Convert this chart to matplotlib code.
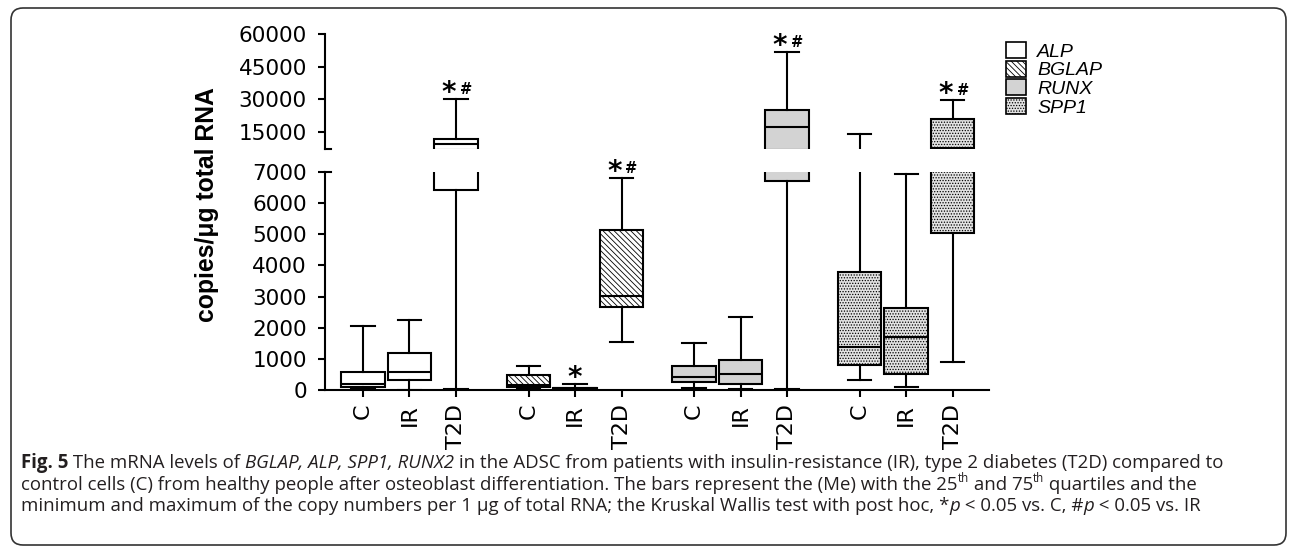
import matplotlib
matplotlib.use('Agg')
import matplotlib.pyplot as plt
from matplotlib.patches import Patch, FancyBboxPatch

plt.rcParams['hatch.linewidth'] = 0.6

genes = ['ALP', 'BGLAP', 'RUNX', 'SPP1']
groups = ['C', 'IR', 'T2D']

# Reihenfolge: ALP C, IR, T2D, BGLAP C, IR, T2D, RUNX ..., SPP1 ...
whislo = [50, 10, 30, 30, 5, 1550, 74, 22, 30, 321, 106, 890]
q1 = [106, 321, 6420, 106, 15, 2655, 257, 193, 6710, 803, 514, 5032]
med = [193, 568, 9300, 160, 50, 3030, 417, 504, 17140, 1380, 1702, 7600]
q3 = [588, 1178, 11500, 482, 80, 5140, 771, 973, 25000, 3800, 2624, 20800]
whishi = [2055, 2248, 30000, 770, 193, 6800, 1510, 2335, 51700, 13800, 6930, 29500]
sig = ['', '', '*#', '', '*', '*#', '', '', '*#', '', '', '*#']

low_ticks = [0, 1000, 2000, 3000, 4000, 5000, 6000, 7000]
high_ticks = [15000, 30000, 45000, 60000]
y_break = 7000
y_max = 60000

faces = ['white', 'white', '#d3d3d3', '#e2e2e2']
hatches = [None, '\\' * 6, None, '......']

positions = [g * 3.56 + i for g in range(len(genes)) for i in range(len(groups))]
labels = [grp for g in genes for grp in groups]
stats = [dict(med=med[k], q1=q1[k], q3=q3[k], whislo=whislo[k], whishi=whishi[k], fliers=[])
         for k in range(len(med))]

fig = plt.figure(figsize=(12.9, 5.46), dpi=100)
ax_bot = fig.add_axes([0.2519, 0.2857, 0.5147, 0.3993])
ax_top = fig.add_axes([0.2519, 0.7271, 0.5147, 0.2106], sharex=ax_bot)

lw = 1.5
for ax, is_top in ((ax_bot, False), (ax_top, True)):
    res = ax.bxp(stats, positions=positions, widths=0.94, capwidths=0.5,
                 patch_artist=True, showfliers=False,
                 boxprops=dict(linewidth=lw, edgecolor='black'),
                 whiskerprops=dict(linewidth=lw, color='black'),
                 capprops=dict(linewidth=lw, color='black'),
                 medianprops=dict(linewidth=lw, color='black'))
    for k, box in enumerate(res['boxes']):
        g = k // 3
        box.set_facecolor(faces[g])
        if hatches[g]:
            box.set_hatch(hatches[g])
    # Linien, die ganz unter dem Bruch liegen, nicht im oberen Teil zeigen
    if is_top:
        for ln in res['caps'] + res['medians'] + res['whiskers']:
            if max(ln.get_ydata()) < y_break:
                ln.set_visible(False)
    for s in ['top', 'right']:
        ax.spines[s].set_visible(False)
    ax.spines['left'].set_linewidth(lw)
    ax.tick_params(axis='y', length=5, width=lw, pad=8, labelsize=15.5)
    ax.set_xlim(-0.817, 13.46)

ax_bot.set_ylim(0, y_break)
ax_bot.set_yticks(low_ticks)
ax_bot.spines['bottom'].set_linewidth(lw)
ax_bot.set_xticks(positions)
ax_bot.set_xticklabels(labels, rotation=90, fontsize=16)
ax_bot.tick_params(axis='x', length=5, width=lw, pad=5)

ax_top.set_ylim(y_break, y_max)
ax_top.set_yticks(high_ticks)
ax_top.spines['bottom'].set_visible(False)
ax_top.tick_params(axis='x', bottom=False, labelbottom=False)

# Bruchmarken der Achse
stub = 6 / 664
ax_top.plot([0, stub], [0, 0], transform=ax_top.transAxes, color='black', lw=lw, clip_on=False)
ax_bot.plot([0, stub], [1, 1], transform=ax_bot.transAxes, color='black', lw=lw, clip_on=False)

# Signifikanzzeichen ueber den Whiskern
for k, s in enumerate(sig):
    if not s:
        continue
    ax = ax_top if whishi[k] > y_break else ax_bot
    dx = -7 if '#' in s else 0
    ax.annotate('*', xy=(positions[k], whishi[k]), xytext=(dx, -2), textcoords='offset pixels',
                ha='center', va='baseline', fontsize=20, fontweight='bold', annotation_clip=False)
    if '#' in s:
        ax.annotate('#', xy=(positions[k], whishi[k]), xytext=(10, 5), textcoords='offset pixels',
                    ha='center', va='baseline', fontsize=10.5, fontweight='bold', annotation_clip=False)

fig.text(207 / 1290, 1 - 205 / 546, 'copies/μg total RNA', rotation=90, ha='center', va='center',
         fontsize=17.8, fontweight='bold', family=['Liberation Sans', 'DejaVu Sans'])

handles = [Patch(facecolor=faces[g], edgecolor='black', hatch=hatches[g], linewidth=1.2)
           for g in range(len(genes))]
fig.legend(handles, genes, loc='upper left', bbox_to_anchor=(1006 / 1290, 1 - 42 / 546),
           frameon=False, borderpad=0, borderaxespad=0, handlelength=1.03, handleheight=0.88,
           handletextpad=0.57, labelspacing=0.0,
           prop=dict(family=['Liberation Sans', 'DejaVu Sans'], style='italic', size=14))

# Bildunterschrift: Textstuecke mit eigenem Stil nebeneinander setzen
N, I, B, S = 'n', 'i', 'b', 's'
cap_lines = [
    [('Fig. 5', B), (' The mRNA levels of ', N), ('BGLAP, ALP, SPP1, RUNX2', I),
     (' in the ADSC from patients with insulin-resistance (IR), type 2 diabetes (T2D) compared to', N)],
    [('control cells (C) from healthy people after osteoblast differentiation. The bars represent the (Me) with the 25', N),
     ('th', S), (' and 75', N), ('th', S), (' quartiles and the', N)],
    [('minimum and maximum of the copy numbers per 1 µg of total RNA; the Kruskal Wallis test with post hoc, *', N),
     ('p', I), (' < 0.05 vs. C, #', N), ('p', I), (' < 0.05 vs. IR', N)],
]
cap_size = 13.4
renderer = fig.canvas.get_renderer()


def run_style(kind):
    st = dict(family='Open Sans', color='#231f20', fontsize=cap_size)
    if kind == I:
        st['style'] = 'italic'
    elif kind == B:
        st['weight'] = 'bold'
    elif kind == S:
        st['fontsize'] = cap_size * 0.62
    return st


def run_width(text, st):
    t1 = fig.text(0, 0, text + '|', **st)
    t2 = fig.text(0, 0, '|', **st)
    w = t1.get_window_extent(renderer).width - t2.get_window_extent(renderer).width
    t1.remove()
    t2.remove()
    return w


for i, runs in enumerate(cap_lines):
    x = 21.0
    base = 468 + 21.5 * i
    for text, kind in runs:
        st = run_style(kind)
        rise = 7 if kind == S else 0
        fig.text(x / 1290, 1 - (base - rise) / 546, text, ha='left', va='baseline', **st)
        x += run_width(text, st)

border = FancyBboxPatch((0.11, 0.01), 12.75, 5.37, boxstyle='round,pad=0,rounding_size=0.12',
                        transform=fig.dpi_scale_trans, fill=False, lw=1.2, ec='#333333')
fig.patches.append(border)

fig.savefig('out.png', dpi=100)
